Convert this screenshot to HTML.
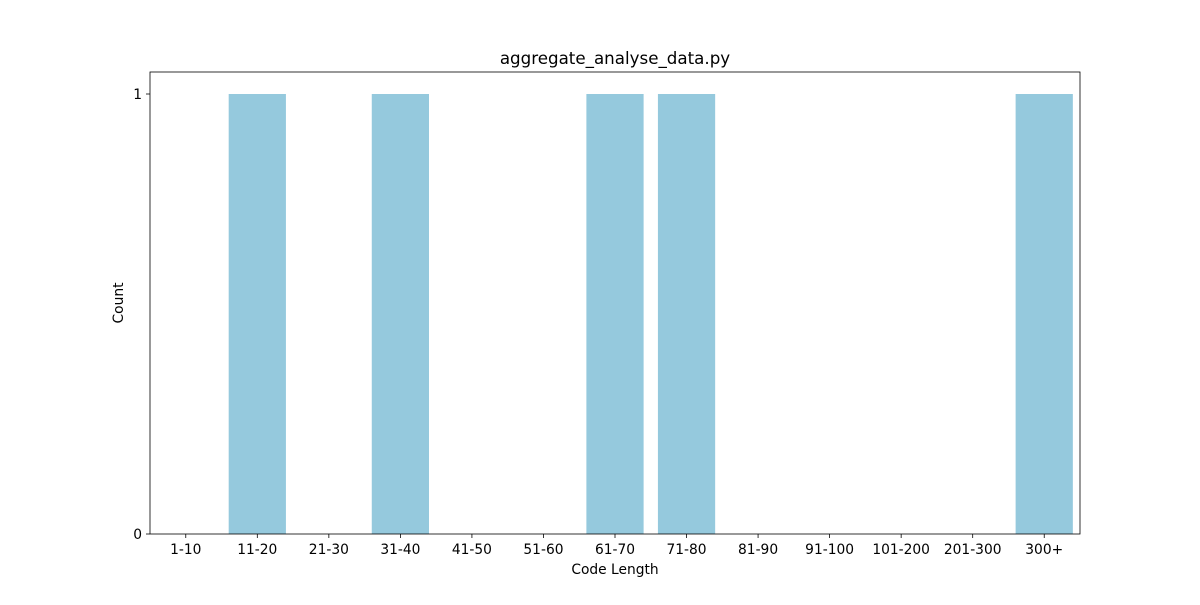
<!DOCTYPE html>
<html><head><meta charset="utf-8"><style>body{margin:0;background:#fff}svg text{font-family:"DejaVu Sans","Liberation Sans",sans-serif;fill:#000}</style></head>
<body>
<svg id="chart" width="1200" height="600"></svg>
<script>
const categories=["1-10","11-20","21-30","31-40","41-50","51-60","61-70","71-80","81-90","91-100","101-200","201-300","300+"];
const counts=[0,1,0,1,0,0,1,1,0,0,0,0,1];
const yTicks=[0,1];
const ns="http://www.w3.org/2000/svg";
const svg=document.getElementById('chart');
const L=150,R=1080,T=72,B=534;
const x=i=>L+(i+0.5)*(R-L)/categories.length;
const y=v=>B-v*(B-T)/1.05;
const bw=0.8*(R-L)/categories.length;
function mk(t,a,txt){const e=document.createElementNS(ns,t);for(const k in a)e.setAttribute(k,a[k]);if(txt!==undefined)e.textContent=txt;svg.appendChild(e);return e;}
categories.forEach((c,i)=>{
 const b=mk('rect',{x:x(i)-bw/2,y:y(counts[i]),width:bw,height:B-y(counts[i]),fill:'#95c9dd'});
 
 
 const tk=mk('line',{x1:x(i),x2:x(i),y1:B,y2:B+4,stroke:'#000','stroke-width':0.8});
 
 
 const tl=mk('text',{x:x(i),y:B+20,'text-anchor':'middle','font-size':13.8},c);
 
 
});
yTicks.forEach(v=>{
 const tk=mk('line',{x1:L-4,x2:L,y1:y(v),y2:y(v),stroke:'#000','stroke-width':0.8});
 
 
 const tl=mk('text',{x:L-8,y:y(v)+5,'text-anchor':'end','font-size':13.8},v);
 
 
});
const fr=mk('rect',{x:L,y:T,width:R-L,height:B-T,fill:'none',stroke:'#000','stroke-width':0.8});


const tt=mk('text',{x:(L+R)/2,y:64,'text-anchor':'middle','font-size':16.7},'aggregate_analyse_data.py');


const xt=mk('text',{x:(L+R)/2,y:574,'text-anchor':'middle','font-size':13.8},'Code Length');


const yt=mk('text',{x:123,y:(T+B)/2,'text-anchor':'middle','font-size':13.8,transform:'rotate(-90 123 '+(T+B)/2+')'},'Count');


</script>
</body></html>
